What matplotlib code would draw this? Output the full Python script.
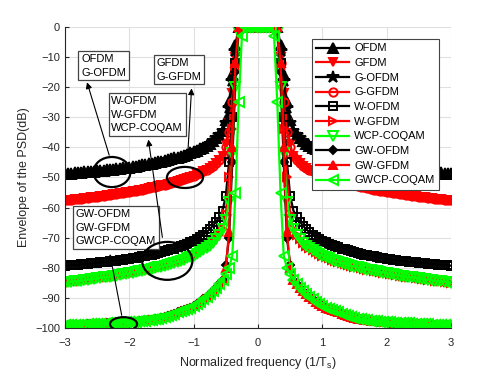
import numpy as np
import matplotlib
matplotlib.use("Agg")
import matplotlib.pyplot as plt
from matplotlib.patches import Ellipse

plt.rcParams['font.family'] = ['Liberation Sans', 'DejaVu Sans']

# one-sided frequency grid (normalized, 1/Ts); the spectra are symmetric
f_inner = [0.0, 0.05, 0.1, 0.15, 0.2, 0.25, 0.3, 0.35, 0.4, 0.45, 0.5]
f_tail = list(np.round(np.arange(0.55, 3.0001, 0.05), 2))

# tails (dB) of each group of curves, f = 0.55 ... 3.0
tail_ofdm = [-34.5, -35.8, -37.0, -38.0, -38.8, -39.5, -40.1, -40.7, -41.2, -41.6,
             -42.0, -42.4, -42.8, -43.1, -43.4, -43.7, -44.0, -44.3, -44.5, -44.8,
             -45.0, -45.2, -45.4, -45.6, -45.8, -46.0, -46.2, -46.4, -46.5, -46.7,
             -46.85, -47.0, -47.1, -47.25, -47.4, -47.5, -47.6, -47.75, -47.85, -47.95,
             -48.05, -48.15, -48.25, -48.35, -48.45, -48.55, -48.6, -48.7, -48.8, -48.9]
tail_gfdm = [-43.0, -44.3, -45.3, -46.1, -46.8, -47.4, -48.0, -48.5, -49.0, -49.4,
             -49.8, -50.2, -50.6, -50.9, -51.2, -51.5, -51.8, -52.1, -52.4, -52.6,
             -52.9, -53.1, -53.3, -53.6, -53.8, -54.0, -54.2, -54.4, -54.6, -54.8,
             -54.95, -55.1, -55.3, -55.45, -55.6, -55.75, -55.9, -56.05, -56.2, -56.35,
             -56.5, -56.6, -56.75, -56.9, -57.0, -57.15, -57.3, -57.4, -57.5, -57.6]
tail_wofdm = [-61.0, -63.0, -64.7, -66.0, -67.2, -68.2, -69.0, -69.8, -70.4, -71.0,
              -71.5, -72.0, -72.4, -72.8, -73.2, -73.6, -73.9, -74.2, -74.5, -74.8,
              -75.1, -75.3, -75.6, -75.8, -76.0, -76.2, -76.4, -76.6, -76.8, -77.0,
              -77.15, -77.3, -77.45, -77.6, -77.7, -77.85, -78.0, -78.1, -78.2, -78.3,
              -78.45, -78.55, -78.65, -78.75, -78.85, -78.95, -79.0, -79.1, -79.2, -79.3]
tail_wgfdm = [-67.0, -69.0, -70.5, -71.7, -72.7, -73.5, -74.2, -74.9, -75.5, -76.0,
              -76.5, -76.9, -77.3, -77.7, -78.1, -78.4, -78.7, -79.0, -79.3, -79.6,
              -79.9, -80.1, -80.4, -80.6, -80.8, -81.0, -81.2, -81.4, -81.6, -81.8,
              -82.0, -82.2, -82.4, -82.6, -82.75, -82.9, -83.05, -83.2, -83.35, -83.5,
              -83.65, -83.8, -83.95, -84.1, -84.25, -84.4, -84.55, -84.7, -84.85, -85.0]
tail_gw = [-84.0, -85.5, -86.7, -87.8, -88.8, -89.7, -90.5, -91.3, -92.0, -92.7,
           -93.2, -93.6, -94.0, -94.4, -94.8, -95.2, -95.6, -96.0, -96.3, -96.6,
           -96.9, -97.1, -97.3, -97.5, -97.6, -97.7, -97.8, -97.9, -98.0, -98.1,
           -98.15, -98.2, -98.3, -98.35, -98.4, -98.45, -98.5, -98.55, -98.6, -98.65,
           -98.7, -98.75, -98.8, -98.85, -98.9, -98.9, -98.95, -99.0, -99.05, -99.1]

# main lobe and roll-off of each waveform, f = 0 ... 0.5
in_ofdm = [0, 0, 0, 0, 0, 0, 0, -6, -16, -25, -31]
in_gfdm = [0, 0, 0, 0, 0, 0, 0, -10, -22, -32, -39]
in_gofdm = [0, 0, 0, 0, 0, 0, 0, -8, -18, -27, -32]
in_ggfdm = [0, 0, 0, 0, 0, 0, 0, -12, -25, -35, -40]
in_wofdm = [0, 0, 0, 0, 0, 0, 0, -12, -30, -45, -56]
in_wgfdm = [0, 0, 0, 0, 0, 0, 0, -14, -34, -50, -62]
in_wcp = [0, 0, 0, 0, 0, 0, -2, -20, -42, -58, -64]
in_gwofdm = [0, 0, 0, 0, 0, 0, 0, -15, -45, -70, -79]
in_gwgfdm = [0, 0, 0, 0, 0, 0, 0, -12, -40, -68, -80]
in_gwcp = [0, 0, 0, 0, 0, -3, -25, -55, -76, -80, -82]

labels = ['OFDM', 'GFDM', 'G-OFDM', 'G-GFDM', 'W-OFDM', 'W-GFDM',
          'WCP-COQAM', 'GW-OFDM', 'GW-GFDM', 'GWCP-COQAM']
inner = [in_ofdm, in_gfdm, in_gofdm, in_ggfdm, in_wofdm, in_wgfdm,
         in_wcp, in_gwofdm, in_gwgfdm, in_gwcp]
tails = [tail_ofdm, tail_gfdm, tail_ofdm, tail_gfdm, tail_wofdm, tail_wgfdm,
         tail_wgfdm, tail_gw, tail_gw, tail_gw]

colors = ['k', 'r', 'k', 'r', 'k', 'r', '#00ff00', 'k', 'r', '#00ff00']
markers = ['^', 'v', '*', 'o', 's', '>', 'v', 'D', '^', '<']
filled = [True, True, True, False, False, False, False, True, True, False]
msizes = [6.5, 6, 9, 6, 6, 6, 6.5, 4, 6, 6.5]


def both_sides(vals):
    vals = np.array(vals)
    return np.concatenate([vals[::-1][:-1], vals])


f_one = np.array(f_inner + f_tail)
f_full = np.concatenate([-f_one[::-1][:-1], f_one])

fig = plt.figure(figsize=(4.98, 3.74), dpi=100)
ax = fig.add_axes([0.1305, 0.123, 0.7751, 0.805])

for lab, a, b, c, m, fl, ms in zip(labels, inner, tails, colors, markers, filled, msizes):
    y = both_sides(list(a) + list(b))
    ax.plot(f_full, y, color=c, marker=m, markersize=ms, linewidth=1.6,
            markerfacecolor=c if fl else 'none', markeredgewidth=1.4, label=lab)

ax.set_xlim(-3, 3)
ax.set_ylim(-100, 0)
ax.set_xticks(range(-3, 4))
ax.set_yticks(range(-100, 1, 10))
ax.grid(True, color='#e0e0e0', linewidth=0.8)
ax.set_axisbelow(True)
for s in ['top', 'right']:
    ax.spines[s].set_visible(False)
for s in ['left', 'bottom']:
    ax.spines[s].set_color('#262626')
ax.tick_params(direction='in', length=3, labelsize=8, colors='#262626')
ax.tick_params(axis='x', pad=7)
ax.set_xlabel('Normalized frequency (1/T$_\\mathregular{s}$)', fontsize=9,
              color='#262626', labelpad=5)
ax.set_ylabel('Envelope of the PSD(dB)', fontsize=9, color='#262626')

leg = ax.legend(loc='upper left', bbox_to_anchor=(0.64, 0.96), borderaxespad=0,
                fontsize=8, handlelength=2.9, handletextpad=0.5, labelspacing=0.42,
                fancybox=False, framealpha=1, edgecolor='#444444')
leg.get_frame().set_linewidth(0.8)

# annotation boxes, arrows and ellipses
box = dict(boxstyle='square,pad=0.25', fc='white', ec='#444444', lw=0.9)
notes = [('OFDM\nG-OFDM', (-2.75, -9.0)),
         ('GFDM\nG-GFDM', (-1.58, -10.3)),
         ('W-OFDM\nW-GFDM\nWCP-COQAM', (-2.28, -23.0)),
         ('GW-OFDM\nGW-GFDM\nGWCP-COQAM', (-2.83, -60.5))]
for txt, (x, y) in notes:
    ax.text(x, y, txt, fontsize=8, ha='left', va='top', bbox=box,
            linespacing=1.45, zorder=5)

arrows = [((-2.30, -43.5), (-2.67, -17.5)),
          ((-1.10, -45.5), (-1.03, -19.5)),
          ((-1.48, -70.8), (-1.71, -36.5)),
          ((-2.11, -96.7), (-2.31, -74.5))]
for tail, head in arrows:
    ax.annotate('', xy=head, xytext=tail, zorder=6,
                arrowprops=dict(arrowstyle='-|>', color='k', lw=0.8,
                                mutation_scale=9))

ellipses = [(-2.27, -48.2, 0.575, 10.0),
            (-1.135, -50.0, 0.56, 7.0),
            (-1.41, -77.7, 0.78, 12.6),
            (-2.09, -98.7, 0.42, 4.6)]
for x, y, w, h in ellipses:
    ax.add_patch(Ellipse((x, y), w, h, fill=False, ec='k', lw=1.6, zorder=6))

fig.savefig('out.png', dpi=100)
